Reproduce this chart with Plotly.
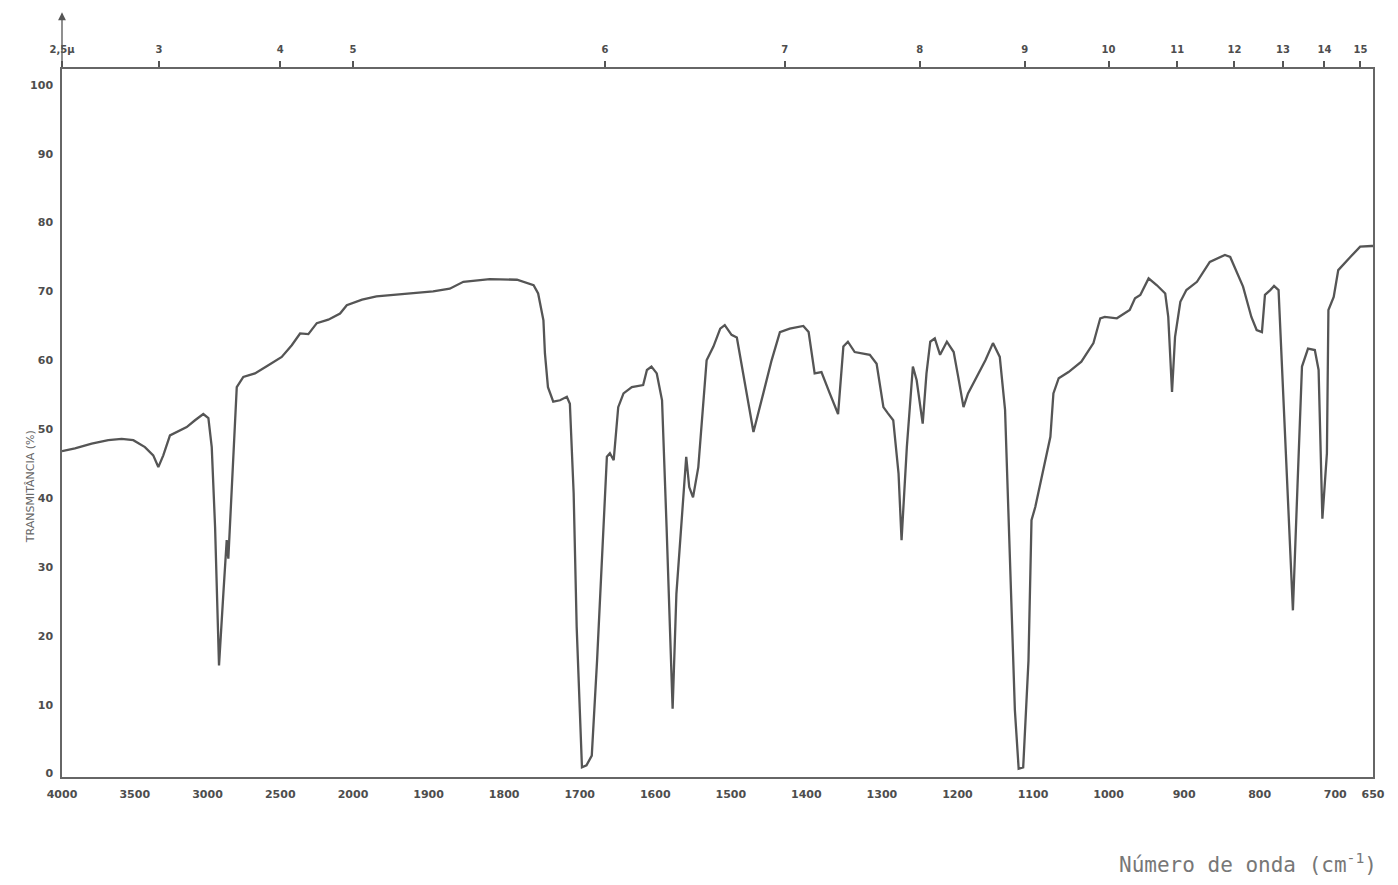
import plotly.graph_objects as go

# ---- data ----
wavenumber = [4000, 3911, 3796, 3682, 3590, 3510, 3430, 3373, 3338, 3304, 3258, 3212, 3143, 3086,
              3029, 2994, 2971, 2948, 2921, 2891, 2875, 2868, 2857, 2834, 2799, 2754, 2674, 2582,
              2490, 2421, 2364, 2307, 2249, 2170, 2089, 2043, 1988, 1969, 1940, 1894, 1872, 1854,
              1819, 1783, 1761, 1755, 1748, 1746, 1742, 1735, 1726, 1717, 1713, 1708, 1704, 1697,
              1691, 1684, 1677, 1669, 1664, 1660, 1655, 1649, 1642, 1631, 1616, 1611, 1605, 1598,
              1591, 1585, 1577, 1572, 1559, 1555, 1550, 1543, 1532, 1523, 1514, 1508, 1499, 1492,
              1483, 1470, 1457, 1446, 1435, 1422, 1404, 1397, 1389, 1380, 1369, 1358, 1351, 1345,
              1336, 1316, 1307, 1298, 1292, 1285, 1278, 1274, 1267, 1259, 1254, 1246, 1241, 1236,
              1230, 1223, 1214, 1205, 1199, 1192, 1186, 1172, 1163, 1153, 1144, 1137, 1130, 1124,
              1119, 1113, 1106, 1102, 1097, 1084, 1077, 1073, 1066, 1053, 1036, 1020, 1011, 1005,
              989, 972, 965, 958, 947, 936, 925, 921, 916, 912, 905, 897, 883, 866, 846, 839, 822,
              811, 804, 797, 793, 786, 781, 775, 767, 756, 750, 744, 736, 727, 722, 717, 711, 709,
              702, 696, 680, 667, 652, 650]
transmittance = [46.8, 47.2, 47.9, 48.4, 48.6, 48.4, 47.4, 46.2, 44.5, 46.2, 49.1, 49.6, 50.3, 51.3,
                 52.2, 51.6, 47.4, 35.8, 15.7, 26.2, 32.4, 33.9, 31.2, 40.7, 56.1, 57.6, 58.1, 59.3,
                 60.5, 62.2, 63.9, 63.8, 65.4, 65.9, 66.8, 68.0, 68.8, 69.3, 69.6, 70.0, 70.4, 71.4,
                 71.8, 71.7, 70.9, 69.7, 65.8, 61.0, 56.1, 54.0, 54.2, 54.7, 53.7, 40.7, 21.3, 0.9,
                 1.2, 2.6, 16.4, 35.8, 46.0, 46.5, 45.5, 53.2, 55.2, 56.1, 56.4, 58.6, 59.1, 58.1,
                 54.2, 35.8, 9.4, 26.1, 46.0, 41.6, 40.1, 44.5, 60.0, 62.0, 64.6, 65.1, 63.7, 63.3,
                 57.6, 49.6, 55.2, 60.0, 64.1, 64.6, 65.0, 64.1, 58.1, 58.3, 55.2, 52.2, 62.0, 62.7,
                 61.2, 60.8, 59.5, 53.2, 52.3, 51.3, 43.6, 33.9, 47.4, 59.1, 57.1, 50.8, 58.1, 62.7,
                 63.2, 60.8, 62.7, 61.2, 57.6, 53.2, 55.2, 58.1, 60.0, 62.5, 60.5, 52.8, 31.0, 9.2,
                 0.7, 0.9, 16.4, 36.8, 38.7, 45.5, 48.9, 55.2, 57.4, 58.3, 59.8, 62.5, 66.1, 66.3,
                 66.1, 67.3, 69.0, 69.5, 71.9, 70.9, 69.7, 66.3, 55.4, 63.4, 68.5, 70.2, 71.4, 74.3,
                 75.3, 75.0, 70.7, 66.3, 64.4, 64.1, 69.5, 70.2, 70.8, 70.2, 51.3, 23.7, 41.6, 59.1,
                 61.7, 61.5, 58.6, 37.0, 46.5, 67.3, 69.2, 73.1, 75.0, 76.5, 76.6, 76.6]

wavenumber_ticks = [4000, 3500, 3000, 2500, 2000, 1900, 1800, 1700, 1600, 1500, 1400, 1300,
                    1200, 1100, 1000, 900, 800, 700, 650]
micron_ticks = [2.5, 3, 4, 5, 6, 7, 8, 9, 10, 11, 12, 13, 14, 15]
micron_labels = ["2,5\u03bc", "3", "4", "5", "6", "7", "8", "9", "10", "11", "12", "13", "14", "15"]
transmittance_ticks = [0, 10, 20, 30, 40, 50, 60, 70, 80, 90, 100]

# ---- chart-paper scale: above 2000 cm-1 the scale is compressed ----
BREAK = 2000.0
HIGH_COMPRESS = 0.1926


def chart_pos(wn):
    if wn >= BREAK:
        return (4000.0 - wn) * HIGH_COMPRESS
    return (4000.0 - BREAK) * HIGH_COMPRESS + (BREAK - wn)


x_pos = [chart_pos(w) for w in wavenumber]
x_range = [chart_pos(4000), chart_pos(650)]

INK = "#555555"
TICKFONT = dict(family="DejaVu Sans", size=11, color="#4d4d4d", weight="bold")

fig = go.Figure()
fig.add_trace(go.Scatter(x=x_pos, y=transmittance, mode="lines",
                         line=dict(color=INK, width=2.3), hoverinfo="skip",
                         showlegend=False))
# empty trace to register the top (micron) axis
fig.add_trace(go.Scatter(x=[], y=[], xaxis="x2", showlegend=False, hoverinfo="skip"))

fig.update_layout(
    width=1390, height=877,
    margin=dict(l=54, r=25, t=61, b=108),
    paper_bgcolor="white", plot_bgcolor="white",
    xaxis=dict(range=x_range, tickvals=[chart_pos(w) for w in wavenumber_ticks],
               ticktext=[str(w) for w in wavenumber_ticks], ticks="",
               tickfont=TICKFONT, ticklabelstandoff=6,
               showgrid=False, zeroline=False, showline=True, linecolor="#666666",
               linewidth=1.5, mirror=True),
    xaxis2=dict(range=x_range, overlaying="x", side="top", anchor="y",
                tickvals=[chart_pos(10000.0 / m) for m in micron_ticks], ticktext=micron_labels,
                ticks="outside", ticklen=6, tickwidth=1.5, tickcolor="#555555",
                tickfont=dict(family="DejaVu Sans", size=10, color="#4d4d4d", weight="bold"),
                ticklabelstandoff=4,
                showgrid=False, zeroline=False, showline=True, linecolor="#666666",
                linewidth=1.5),
    yaxis=dict(range=[-0.5, 102.3], tickvals=transmittance_ticks,
               ticktext=[str(t) for t in transmittance_ticks], ticks="",
               tickfont=TICKFONT, ticklabelstandoff=5,
               showgrid=False, zeroline=False, showline=True, linecolor="#666666",
               linewidth=1.5, mirror=True),
    annotations=[
        dict(text="TRANSMIT\u00c2NCIA (%)", xref="paper", yref="paper", x=-0.0305, y=0.41,
             textangle=-90, showarrow=False,
             font=dict(family="DejaVu Sans", size=11, color="#666666")),
        dict(text="N\u00famero de onda (cm<sup>-1</sup>)", xref="paper", yref="paper",
             x=0.905, y=-0.122, xanchor="center", yanchor="middle", showarrow=False,
             font=dict(family="DejaVu Sans Mono", size=21, color="#777777")),
        dict(text="", xref="paper", yref="paper", x=0.0, y=1.08, ax=0, ay=56,
             showarrow=True, arrowhead=2, arrowsize=1.2, arrowwidth=1.3,
             arrowcolor="#555555"),
    ],
)

fig.write_html("out.html")
